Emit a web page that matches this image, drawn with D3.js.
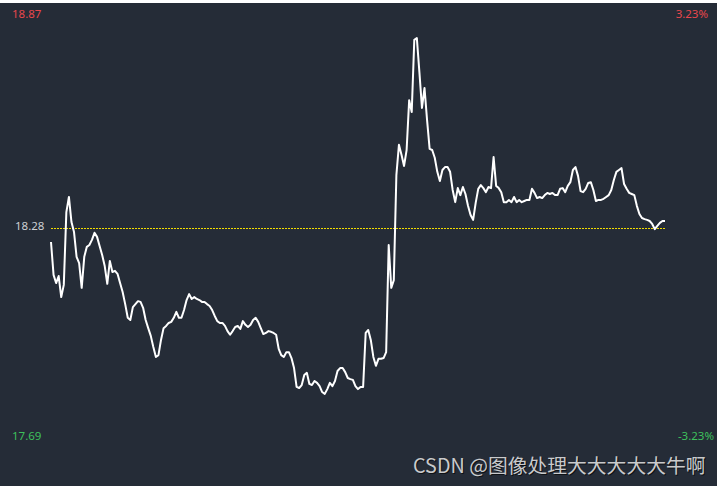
<!DOCTYPE html>
<html><head><meta charset="utf-8">
<script src="https://cdn.jsdelivr.net/npm/d3@7"></script>
<style>
html,body{margin:0;padding:0;background:#fff;}
svg{display:block;}
</style></head>
<body>
<svg id="c" width="719" height="486"></svg>
<script>
const prevClose = 18.28;
const yMax = 18.87, yMin = 17.69;
const pctTop = "3.23%", pctBottom = "-3.23%";
const totalMinutes = 240;
const prices = [
18.242,18.153,18.131,18.150,18.093,18.126,18.323,18.364,18.296,18.269,
18.202,18.185,18.118,18.202,18.229,18.234,18.248,18.267,18.256,18.231,
18.207,18.177,18.129,18.191,18.161,18.164,18.156,18.131,18.107,18.074,
18.037,18.031,18.066,18.074,18.082,18.080,18.064,18.031,18.009,17.988,
17.958,17.931,17.936,17.977,18.009,18.015,18.023,18.026,18.037,18.053,
18.037,18.037,18.058,18.085,18.101,18.088,18.093,18.088,18.085,18.080,
18.080,18.074,18.069,18.058,18.042,18.028,18.023,18.023,18.015,18.001,
17.991,18.001,18.012,18.015,18.007,18.028,18.018,18.012,18.018,18.031,
18.037,18.026,18.009,17.993,17.996,18.001,17.999,17.996,17.991,17.953,
17.936,17.931,17.944,17.944,17.928,17.901,17.850,17.847,17.855,17.882,
17.888,17.858,17.855,17.866,17.861,17.852,17.836,17.831,17.844,17.861,
17.852,17.866,17.893,17.901,17.901,17.890,17.874,17.871,17.869,17.852,
17.844,17.850,17.850,17.996,18.004,17.977,17.931,17.907,17.926,17.926,
17.928,17.944,18.234,18.118,18.139,18.423,18.505,18.478,18.448,18.491,
18.626,18.594,18.789,18.794,18.702,18.605,18.659,18.572,18.494,18.491,
18.470,18.432,18.407,18.437,18.445,18.445,18.432,18.383,18.350,18.388,
18.369,18.391,18.372,18.340,18.315,18.302,18.348,18.386,18.396,18.388,
18.377,18.391,18.388,18.472,18.394,18.388,18.377,18.350,18.350,18.356,
18.350,18.364,18.350,18.356,18.350,18.353,18.356,18.356,18.386,18.375,
18.361,18.364,18.361,18.369,18.375,18.372,18.375,18.369,18.369,18.386,
18.388,18.377,18.394,18.404,18.437,18.445,18.421,18.380,18.377,18.386,
18.402,18.404,18.383,18.353,18.356,18.356,18.359,18.364,18.369,18.383,
18.410,18.432,18.437,18.442,18.399,18.386,18.375,18.372,18.369,18.340,
18.318,18.307,18.304,18.302,18.299,18.291,18.277,18.286,18.294,18.299,
18.299
];

const W = 719, H = 486;
const svg = d3.select("#c");
svg.append("rect").attr("x",0).attr("y",0).attr("width",W).attr("height",H).attr("fill","#fff");
svg.append("rect").attr("x",0).attr("y",3).attr("width",717).attr("height",H-3).attr("fill","#252c37");

const x = d3.scaleLinear().domain([0,totalMinutes]).range([51,665]);
const y = d3.scaleLinear().domain([yMin,yMax]).range([446,10]);

// previous close dotted line
const yp = Math.round(y(prevClose));
svg.append("line")
  .attr("x1",Math.round(x(0))).attr("x2",Math.round(x(totalMinutes))+1)
  .attr("y1",yp+0.5).attr("y2",yp+0.5)
  .attr("stroke","#f2dc00").attr("stroke-width",1).attr("stroke-dasharray","2,1")
  .attr("shape-rendering","crispEdges");

// price line
const line = d3.line().x((d,i)=>x(i)).y(d=>y(d));
svg.append("path").datum(prices).attr("d",line)
  .attr("fill","none").attr("stroke","#ffffff").attr("stroke-width",2).attr("stroke-linejoin","round");

const font = "'Segoe UI','Noto Sans','DejaVu Sans',sans-serif";
function label(txt, xx, yy, col, anchor){
  svg.append("text").attr("x",xx).attr("y",yy).attr("fill",col)
    .attr("font-family",font).attr("font-size",11.5).attr("text-anchor",anchor||"start")
    .attr("dominant-baseline","middle").text(txt);
}
label(yMax.toFixed(2), 12, y(yMax)+5, "#e8474c");
label(pctTop, 708, y(yMax)+5, "#e8474c", "end");
label(prevClose.toFixed(2), 15, y(prevClose)-1, "#cdd0d4");
label(yMin.toFixed(2), 12, y(yMin)-9, "#3ec05c");
label(pctBottom, 714, y(yMin)-9, "#3ec05c", "end");

// watermark
const wm = "CSDN @图像处理大大大大大牛啊";
svg.append("text").attr("x",413).attr("y",473)
  .attr("font-family","'Noto Sans CJK SC','Noto Sans',sans-serif").attr("font-size",19.8)
  .attr("fill","#000").attr("opacity",0.6).attr("transform","translate(1,1)")
  .text(wm);
svg.append("text").attr("x",413).attr("y",473)
  .attr("font-family","'Noto Sans CJK SC','Noto Sans',sans-serif").attr("font-size",19.8)
  .attr("fill","#c9cacc")
  .text(wm);
</script>
</body></html>
